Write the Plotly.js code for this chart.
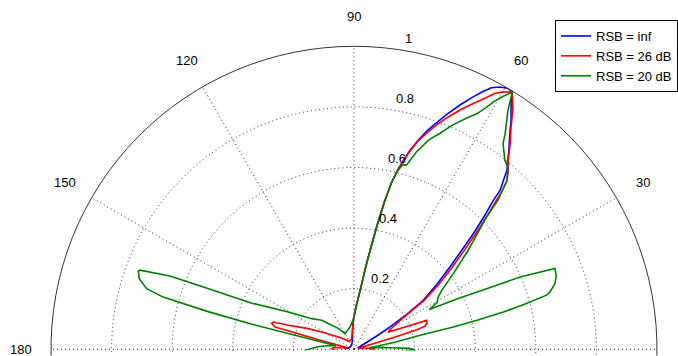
<!DOCTYPE html>
<html>
<head>
<meta charset="utf-8">
<script src="https://cdn.plot.ly/plotly-3.0.1.min.js"></script>
<style>html,body{margin:0;padding:0;background:#fff;}#chart{width:678px;height:356px;}</style>
</head>
<body>
<div id="chart"></div>
<script>
// Series names
const seriesNames = ['RSB = inf', 'RSB = 26 dB', 'RSB = 20 dB'];

// Angle ticks (degrees) and labels, radial ticks
const angleTicks = [0, 30, 60, 90, 120, 150, 180];
const angleTickText = ['', '30', '60', '90', '120', '150', '180'];
const radialTicks = [0.2, 0.4, 0.6, 0.8, 1];

// RSB = inf (blue): angle (deg) and normalized gain
const thetaInf = [-2, 0, 5, 12, 20, 26, 29, 30.5, 31.8, 33.5, 35.3, 38, 40.6, 42.5, 44.1, 45.5, 46.9, 47.4, 49.5, 52.1, 54.5, 55.5, 56.7, 57.5, 58.4,
  59.5, 61, 62.3, 63.5, 64.8, 66.5, 68.4, 70, 71.5, 73, 74.3, 75.3, 76.3, 77.3, 78.3, 79.4, 80.4, 81.8, 83.5, 86.5, 91, 95, 100, 110, 130, 150, 170, 178, 182];
const rInf = [0.03, 0.03, 0.02, 0.015, 0.015, 0.025, 0.05, 0.09, 0.14, 0.21, 0.28, 0.345, 0.417, 0.48, 0.549, 0.61, 0.673, 0.712, 0.777, 0.832, 0.887, 0.915, 0.944, 0.965, 0.997,
  1.0, 0.99, 0.975, 0.95, 0.92, 0.88, 0.835, 0.795, 0.76, 0.72, 0.682, 0.645, 0.61, 0.565, 0.5, 0.42, 0.35, 0.28, 0.21, 0.15, 0.1, 0.06, 0.03, 0.02, 0.015, 0.015, 0.02, 0.03, 0.03];

// RSB = 26 dB (red)
const theta26 = [-2, 0, 3, 8, 12, 15.5, 16.2, 16.8, 17.4, 18, 19.8, 21.7, 23.3, 26.6, 29, 31.6, 33.2, 34.8, 37.3, 39.8, 41.8, 43.5, 45, 46.3, 46.8, 47.8, 49, 50.8, 52.7, 54.7, 56.5, 58.4,
  59.9, 61.1, 62.7, 64.2, 65.7, 67.8, 69.5, 71, 72.9, 74.3, 75.3, 76.3, 77.3, 78.3, 79.4, 80.4, 81.8, 83.5, 86.5, 91, 95, 103, 120, 140, 148, 151.8, 156, 159.9, 161.3, 162.5, 164.2, 164.4, 164.6, 165, 165.7, 168, 172, 175, 178, 181, 183];
const r26 = [0.05, 0.065, 0.07, 0.03, 0.015, 0.03, 0.08, 0.15, 0.217, 0.246, 0.256, 0.258, 0.192, 0.125, 0.14, 0.172, 0.21, 0.28, 0.35, 0.42, 0.485, 0.553, 0.62, 0.68, 0.71, 0.752, 0.775, 0.805, 0.85, 0.897, 0.95, 0.997,
  0.982, 0.965, 0.93, 0.9, 0.872, 0.83, 0.795, 0.762, 0.72, 0.677, 0.642, 0.607, 0.565, 0.5, 0.42, 0.35, 0.28, 0.21, 0.15, 0.1, 0.06, 0.035, 0.03, 0.06, 0.09, 0.121, 0.17, 0.231, 0.281, 0.285, 0.271, 0.2, 0.168, 0.1, 0.031, 0.02, 0.04, 0.065, 0.074, 0.07, 0.06];

// RSB = 20 dB (green)
const theta20 = [-3, -1, 0, 1, 2.4, 4, 6, 8, 10, 12, 12.7, 13.3, 14, 14.8, 15.7, 16.3, 18.1, 20, 21.9, 23.5, 24.6, 26, 27.8, 29.5, 31.8, 33.9, 37.3, 40.9, 43.2, 45, 46, 47.8, 49.8, 51.4, 54.1, 55, 57.2, 58.4,
  59.5, 60.5, 61.5, 62.4, 64.1, 66.3, 68.4, 70.3, 72.5, 74.1, 75.3, 76.3, 77.3, 78.3, 79.4, 80.4, 81.8, 83.5, 86.5, 91, 100, 110, 120, 126.4, 132.9, 138, 144, 150.4, 155.7, 157.5, 158.3, 159.7, 160.1, 161.8, 163.7, 164.7, 165.5, 166.2, 166.6, 167.5, 169, 171, 176, 181, 184];
const r20 = [0.12, 0.2, 0.195, 0.18, 0.12, 0.09, 0.05, 0.08, 0.14, 0.223, 0.336, 0.42, 0.508, 0.58, 0.66, 0.674, 0.698, 0.71, 0.715, 0.598, 0.481, 0.38, 0.281, 0.315, 0.327, 0.349, 0.412, 0.498, 0.56, 0.62, 0.684, 0.752, 0.787, 0.798, 0.839, 0.87, 0.938, 0.997,
  0.968, 0.94, 0.905, 0.878, 0.848, 0.808, 0.765, 0.735, 0.682, 0.632, 0.63, 0.605, 0.565, 0.5, 0.42, 0.35, 0.28, 0.21, 0.15, 0.1, 0.075, 0.065, 0.06, 0.085, 0.108, 0.143, 0.172, 0.249, 0.37, 0.538, 0.654, 0.753, 0.757, 0.746, 0.713, 0.653, 0.5, 0.35, 0.2, 0.1, 0.06, 0.08, 0.12, 0.16, 0.17];

const colors = ['rgb(0,0,255)', 'rgb(255,0,0)', 'rgb(0,128,0)'];
const thetas = [thetaInf, theta26, theta20];
const rs = [rInf, r26, r20];
// green is drawn on the upper subplot (which also carries the solid outer circle)
const subplots = ['polar', 'polar', 'polar2'];

const traces = seriesNames.map((name, i) => ({
  type: 'scatterpolar',
  mode: 'lines',
  name: name,
  subplot: subplots[i],
  theta: thetas[i],
  r: rs[i],
  line: {color: colors[i], width: 1.6},
  hoverinfo: 'skip'
}));

// ---- geometry (page pixels) ----
const W = 678, H = 356;
const cx = 354, cy = 349.3, R = 303;       // centre and radius of the unit circle
const SECT = [-1.2, 181.2];
const below = Math.sin(-SECT[0] * Math.PI / 180);
function domainFor(rad) {
  return {
    x: [(cx - rad) / W, (cx + rad) / W],
    y: [(H - (cy + rad * below)) / H, (H - (cy - rad)) / H]
  };
}
const OUT = 1.006;                          // outer-circle subplot range (so r=1 grid is not clipped)
const DEG = Math.PI / 180;

// radial tick labels sit along the 82 degree ray, just outside each ring (classic polar style)
const radialLabels = radialTicks.map(v => {
  const rr = (v + 0.01) * R;
  return {
    text: String(v),
    xref: 'paper', yref: 'paper',
    x: (cx + rr * Math.cos(82 * DEG)) / W,
    y: (H - (cy - rr * Math.sin(82 * DEG))) / H,
    xanchor: 'left', yanchor: 'bottom',
    xshift: 6, yshift: -2,
    showarrow: false,
    font: {size: 13, color: '#000'}
  };
});

// angle labels centred at 1.1 x the outer radius
const angleLabels = angleTicks.map((a, i) => ({
  text: angleTickText[i],
  xref: 'paper', yref: 'paper',
  x: (cx + 1.1 * R * Math.cos(a * DEG)) / W,
  y: (H - (cy - 1.1 * R * Math.sin(a * DEG))) / H,
  xanchor: 'center', yanchor: 'middle',
  showarrow: false,
  font: {size: 13, color: '#000'}
})).filter(a => a.text !== '');

const gridDash = '1px,3px';
const layout = {
  width: W, height: H,
  margin: {l: 0, r: 0, t: 0, b: 0},
  paper_bgcolor: '#fff',
  font: {family: 'Arial, "Liberation Sans", sans-serif', size: 13, color: '#000'},
  showlegend: true,
  legend: {
    x: 555 / W, y: 1 - 20 / H, xanchor: 'left', yanchor: 'top',
    bordercolor: '#000', borderwidth: 1, bgcolor: '#fff',
    font: {size: 13, color: '#000'}
  },
  annotations: radialLabels.concat(angleLabels),
  polar: {
    domain: domainFor(R),
    sector: SECT,
    bgcolor: '#fff',
    angularaxis: {
      rotation: 0, direction: 'counterclockwise',
      tickmode: 'array', tickvals: angleTicks, showticklabels: false,
      showline: false, ticks: '',
      showgrid: true, gridcolor: '#222', griddash: gridDash, gridwidth: 1
    },
    radialaxis: {
      range: [0, 1], tickmode: 'array', tickvals: radialTicks,
      angle: 82, showticklabels: false,
      showline: false, ticks: '',
      showgrid: true, gridcolor: '#222', griddash: gridDash, gridwidth: 1
    }
  },
  polar2: {
    domain: domainFor(R * OUT),
    sector: SECT,
    bgcolor: 'rgba(0,0,0,0)',
    angularaxis: {
      rotation: 0, direction: 'counterclockwise',
      showline: false, showgrid: false, showticklabels: false, ticks: ''
    },
    radialaxis: {
      range: [0, OUT], tickmode: 'array', tickvals: [1],
      showline: false, showticklabels: false, ticks: '',
      showgrid: true, gridcolor: '#333', griddash: 'solid', gridwidth: 1
    }
  }
};

Plotly.newPlot('chart', traces, layout, {staticPlot: true, displayModeBar: false});
</script>
</body>
</html>
